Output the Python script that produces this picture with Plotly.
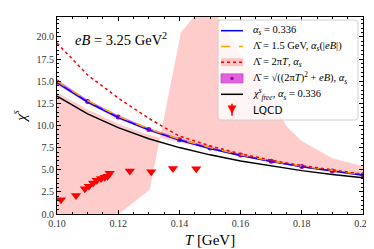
import plotly.graph_objects as go

# ---------------- data ----------------
T_grid = [0.10, 0.11, 0.12, 0.13, 0.14, 0.15, 0.16, 0.17, 0.18, 0.19, 0.20]
chi_alpha = [14.85, 12.65, 10.9, 9.5, 8.35, 7.4, 6.6, 5.92, 5.33, 4.82, 4.38]
chi_lam15 = [15.0, 12.8, 11.05, 9.62, 8.45, 7.5, 6.7, 6.0, 5.42, 4.9, 4.45]
chi_2piT = [19.3, 15.7, 13.1, 10.8, 8.8, 7.7, 6.8, 6.08, 5.47, 4.95, 4.5]
chi_sqrt = [14.9, 12.7, 10.95, 9.55, 8.4, 7.45, 6.65, 5.96, 5.37, 4.86, 4.42]
chi_sqrt_lo = [14.65, 12.5, 10.76, 9.38, 8.25, 7.31, 6.53, 5.86, 5.28, 4.78, 4.34]
chi_sqrt_hi = [15.15, 12.9, 11.14, 9.72, 8.55, 7.59, 6.77, 6.06, 5.46, 4.94, 4.5]
chi_free = [13.3, 11.3, 9.75, 8.5, 7.5, 6.68, 5.98, 5.4, 4.9, 4.47, 4.1]

band_T_a = [0.10, 0.11, 0.12, 0.13, 0.14, 0.15, 0.16, 0.17, 0.18, 0.19, 0.20]
band_a = [13.75, 11.8, 10.2, 8.95, 8.1, 7.3, 6.5, 5.85, 5.25, 4.75, 4.3]
band_T_b = [0.100, 0.120, 0.1303, 0.1405, 0.150, 0.153, 0.1755, 0.180, 0.190, 0.200]
band_b = [-0.3, -0.05, 2.75, 20.5, 24.5, 22.0, 9.7, 8.25, 6.3, 5.4]

lqcd_T = [0.1013, 0.1062, 0.1091, 0.1104, 0.1118, 0.1130, 0.1144, 0.1156, 0.1165,
          0.1172, 0.1238, 0.1308, 0.1379, 0.1455]
lqcd_chi = [1.6, 2.1, 2.86, 3.13, 3.5, 3.8, 4.0, 4.15, 4.27, 4.6, 4.85, 4.78, 5.13, 5.1]

x_ticks = [0.10, 0.12, 0.14, 0.16, 0.18, 0.20]
x_ticklabels = ["0.10", "0.12", "0.14", "0.16", "0.18", "0.20"]
y_ticks = [0.0, 2.5, 5.0, 7.5, 10.0, 12.5, 15.0, 17.5, 20.0]
y_ticklabels = ["0.0", "2.5", "5.0", "7.5", "10.0", "12.5", "15.0", "17.5", "20.0"]

legend_labels = [
    "<i>α<sub>s</sub></i> = 0.336",
    "Λ̄ = 1.5 GeV, <i>α<sub>s</sub></i>(|<i>eB</i>|)",
    "Λ̄ = 2π<i>T</i>, <i>α<sub>s</sub></i>",
    "Λ̄ = √((2π<i>T</i>)<sup>2</sup> + <i>eB</i>), <i>α<sub>s</sub></i>",
    "<i>χ</i><sup><i>s</i></sup><sub><i>free</i></sub>, <i>α<sub>s</sub></i> = 0.336",
    "<span style='font-family:DejaVu Sans'>LQCD</span>",
]

SERIF = "Liberation Serif"
PINK = "rgba(255,0,0,0.2)"
MAG_FILL = "rgba(204,0,204,0.6)"
MAG_DOT = "#a000a0"

W, H = 374, 249
ML, MR, MT, MB = 49, 19, 9, 43
PW, PH = W - ML - MR, H - MT - MB


def px(xp):
    return (xp - ML) / PW


def py(yp):
    return (H - MB - yp) / PH


fig = go.Figure()

# big pink band
fig.add_trace(go.Scatter(
    x=band_T_a + band_T_b[::-1], y=band_a + band_b[::-1],
    fill="toself", fillcolor=PINK, mode="lines",
    line=dict(width=0), showlegend=False, hoverinfo="skip"))

# magenta band
fig.add_trace(go.Scatter(x=T_grid, y=chi_sqrt_lo, mode="lines",
                         line=dict(width=0, color="rgba(0,0,0,0)"), showlegend=False))
fig.add_trace(go.Scatter(
    x=T_grid, y=chi_sqrt_hi, mode="lines", fill="tonexty",
    fillcolor=MAG_FILL, line=dict(width=0, color="rgba(0,0,0,0)"),
    showlegend=False))
fig.add_trace(go.Scatter(
    x=T_grid, y=chi_sqrt, mode="markers",
    marker=dict(color="#b000b0", size=5), showlegend=False))

fig.add_trace(go.Scatter(x=T_grid, y=chi_alpha, mode="lines",
                         line=dict(color="blue", width=1.5), showlegend=False))
fig.add_trace(go.Scatter(x=T_grid, y=chi_lam15, mode="lines",
                         line=dict(color="orange", width=1.5, dash="dash"), showlegend=False))
fig.add_trace(go.Scatter(x=T_grid, y=chi_2piT, mode="lines",
                         line=dict(color="red", width=1.5, dash="dot"), showlegend=False))
fig.add_trace(go.Scatter(x=T_grid, y=chi_free, mode="lines",
                         line=dict(color="black", width=1.5), showlegend=False))
fig.add_trace(go.Scatter(x=lqcd_T, y=lqcd_chi, mode="markers",
                         marker=dict(color="red", size=9, symbol="triangle-down"),
                         showlegend=False))

# ---------------- manual legend (matplotlib style) ----------------
bx0, bx1, by0, by1, r = 210, 350, 12, 112, 3
path = (f"M{px(bx0 + r)},{py(by0)} L{px(bx1 - r)},{py(by0)} "
        f"Q{px(bx1)},{py(by0)} {px(bx1)},{py(by0 + r)} "
        f"L{px(bx1)},{py(by1 - r)} Q{px(bx1)},{py(by1)} {px(bx1 - r)},{py(by1)} "
        f"L{px(bx0 + r)},{py(by1)} Q{px(bx0)},{py(by1)} {px(bx0)},{py(by1 - r)} "
        f"L{px(bx0)},{py(by0 + r)} Q{px(bx0)},{py(by0)} {px(bx0 + r)},{py(by0)} Z")
fig.add_shape(type="path", path=path, xref="paper", yref="paper",
              fillcolor="rgba(255,255,255,0.8)", line=dict(color="#d0d0d0", width=1))

rows = [22.7, 38.4, 54.2, 70.4, 86.3, 101.8]
sx0, sx1 = 213, 235
# row 1: blue
fig.add_shape(type="line", xref="paper", yref="paper", x0=px(sx0), x1=px(sx1),
              y0=py(rows[0]), y1=py(rows[0]), line=dict(color="blue", width=1.5))
# row 2: orange dashed
fig.add_shape(type="line", xref="paper", yref="paper", x0=px(sx0), x1=px(sx1),
              y0=py(rows[1]), y1=py(rows[1]), line=dict(color="orange", width=1.5, dash="dash"))
# row 3: pink patch + red dotted
fig.add_shape(type="rect", xref="paper", yref="paper", x0=px(sx0), x1=px(sx1),
              y0=py(rows[2] + 4), y1=py(rows[2] - 4), fillcolor=PINK, line=dict(width=0))
fig.add_shape(type="line", xref="paper", yref="paper", x0=px(sx0), x1=px(sx1),
              y0=py(rows[2]), y1=py(rows[2]), line=dict(color="red", width=1.5, dash="dot"))
# row 4: magenta patch + dot
fig.add_shape(type="rect", xref="paper", yref="paper", x0=px(sx0), x1=px(sx1),
              y0=py(rows[3] + 4.5), y1=py(rows[3] - 4.5), fillcolor=MAG_FILL,
              line=dict(color="#cc44cc", width=0.8))
fig.add_shape(type="circle", xref="paper", yref="paper", x0=px(222.5), x1=px(225.5),
              y0=py(rows[3] + 1.5), y1=py(rows[3] - 1.5), fillcolor=MAG_DOT,
              line=dict(color=MAG_DOT, width=0.5))
# row 5: black
fig.add_shape(type="line", xref="paper", yref="paper", x0=px(sx0), x1=px(sx1),
              y0=py(rows[4]), y1=py(rows[4]), line=dict(color="black", width=1.5))
# row 6: LQCD triangle with error stem
fig.add_shape(type="line", xref="paper", yref="paper", x0=px(224), x1=px(224),
              y0=py(rows[5] - 6), y1=py(rows[5] + 6), line=dict(color="red", width=1.5))
fig.add_shape(type="path", xref="paper", yref="paper",
              path=f"M{px(220)},{py(rows[5] - 4)} L{px(228)},{py(rows[5] - 4)} "
                   f"L{px(224)},{py(rows[5] + 3.5)} Z",
              fillcolor="red", line=dict(color="red", width=0.5))

for yy, lab in zip(rows, legend_labels):
    fig.add_annotation(x=px(243), y=py(yy), xref="paper", yref="paper",
                       xanchor="left", yanchor="middle", showarrow=False,
                       text=lab, font=dict(family=SERIF, size=10.5, color="black"))

fig.add_annotation(x=px(65), y=py(31), xref="paper", yref="paper", xanchor="left",
                   yanchor="middle", showarrow=False,
                   text="<i>eB</i> = 3.25 GeV<sup>2</sup>",
                   font=dict(family=SERIF, size=14.5, color="black"))

axis_common = dict(showline=True, linecolor="black", linewidth=1, mirror="allticks",
                   ticks="inside", ticklen=4, tickwidth=0.8, tickcolor="black",
                   showgrid=False, zeroline=False, tickmode="array",
                   tickfont=dict(family=SERIF, size=10, color="#333"))

fig.update_xaxes(range=[0.10, 0.20], tickvals=x_ticks, ticktext=x_ticklabels,
                 tickformat=".2f",
                 minor=dict(ticks="inside", dtick=0.005, ticklen=2, tickcolor="black", tickwidth=0.6),
                 title=dict(text="<i>T</i> [GeV]", font=dict(family=SERIF, size=15, color="black"),
                            standoff=6),
                 **axis_common)
fig.update_yaxes(range=[0, 22.25], tickvals=y_ticks, ticktext=y_ticklabels,
                 minor=dict(ticks="inside", dtick=0.5, ticklen=2, tickcolor="black", tickwidth=0.6),
                 title=dict(text="<i>χ</i><sup><i>s</i></sup>", font=dict(family=SERIF, size=15, color="black"),
                            standoff=6),
                 **axis_common)

fig.update_layout(
    width=W, height=H, autosize=False,
    margin=dict(l=ML, r=MR, t=MT, b=MB),
    plot_bgcolor="white", paper_bgcolor="white",
    showlegend=False,
)

fig.write_html("out.html")
